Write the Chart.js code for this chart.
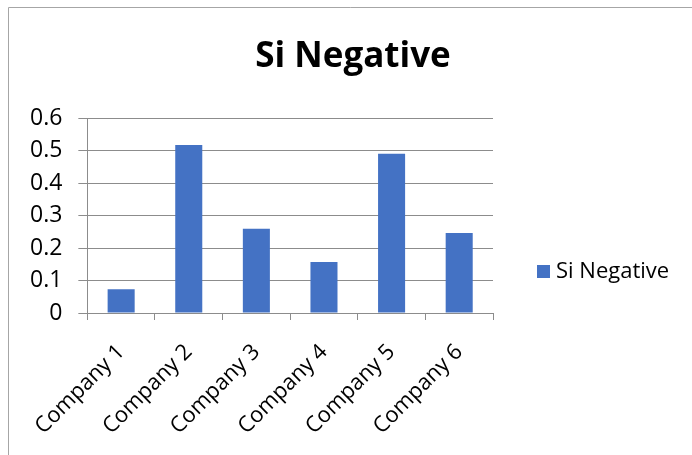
<!DOCTYPE html>
<html>
<head>
<meta charset="utf-8">
<script src="https://cdn.jsdelivr.net/npm/chart.js@4.4.0/dist/chart.umd.min.js"></script>
<style>
  html, body { margin: 0; padding: 0; background: #fff; }
  #wrap { position: relative; width: 692px; height: 455px; }
</style>
</head>
<body>
<div id="wrap"><canvas id="myChart" width="692" height="455"></canvas></div>
<script>
var categories = ['Company 1', 'Company 2', 'Company 3', 'Company 4', 'Company 5', 'Company 6'];
var siNegative = [0.073, 0.517, 0.259, 0.157, 0.49, 0.246];
var yTicks = [0, 0.1, 0.2, 0.3, 0.4, 0.5, 0.6];

var fontName = '"Open Sans", Lato, sans-serif';
var gridColor = '#8c8c8c';

// thin frame along the top and left edge
var frame = {
  id: 'frame',
  beforeDraw: function(chart) {
    var c = chart.ctx;
    c.save();
    c.strokeStyle = '#a6a6a6';
    c.lineWidth = 1;
    c.beginPath();
    c.moveTo(8.5, chart.height);
    c.lineTo(8.5, 7.5);
    c.lineTo(chart.width, 7.5);
    c.stroke();
    c.restore();
  }
};

// legend on the right, one square + series name
var sideLegend = {
  id: 'sideLegend',
  afterDraw: function(chart) {
    var c = chart.ctx;
    var area = chart.chartArea;
    var ds = chart.data.datasets[0];
    var x = area.right + 44;
    var y = area.top + 153;
    c.save();
    c.fillStyle = ds.backgroundColor;
    c.fillRect(x, y - 6, 13, 13);
    c.fillStyle = '#000';
    c.font = '22px ' + fontName;
    c.textBaseline = 'middle';
    c.fillText(ds.label, x + 19, y + 1);
    c.restore();
  }
};

var ctx = document.getElementById('myChart');
var myChart = new Chart(ctx, {
  type: 'bar',
  data: {
    labels: categories,
    datasets: [{
      label: 'Si Negative',
      data: siNegative,
      backgroundColor: '#4472c4',
      borderWidth: 0,
      barPercentage: 0.4,
      categoryPercentage: 1
    }]
  },
  options: {
    responsive: false,
    animation: false,
    layout: { padding: { left: 14, right: 0, top: 0, bottom: 0 } },
    plugins: {
      title: {
        display: true,
        text: 'Si Negative',
        color: '#000',
        font: { family: fontName, size: 35, weight: 'bold' },
        padding: { top: 36, bottom: 40 }
      },
      legend: { display: false },
      tooltip: { enabled: false }
    },
    scales: {
      x: {
        offset: true,
        grid: {
          offset: true,
          drawOnChartArea: false,
          drawTicks: true,
          tickLength: 7,
          color: gridColor
        },
        border: { color: gridColor },
        ticks: {
          color: '#000',
          font: { family: fontName, size: 22 },
          minRotation: 45,
          maxRotation: 45,
          padding: 19
        },
        afterFit: function(axis) { axis.height = 142; }
      },
      y: {
        min: 0,
        max: 0.6,
        afterBuildTicks: function(axis) {
          axis.ticks = yTicks.map(function(v) { return { value: v }; });
        },
        grid: { color: gridColor, tickLength: 9 },
        border: { color: gridColor },
        ticks: {
          color: '#000',
          font: { family: fontName, size: 23 },
          padding: 16,
          autoSkip: false,
          callback: function(v) { return String(v); }
        }
      },
      // empty right-hand axis that keeps room for the legend
      side: {
        position: 'right',
        grid: { display: false },
        border: { display: false },
        ticks: { display: false },
        afterFit: function(axis) { axis.width = 199; }
      }
    }
  },
  plugins: [frame, sideLegend]
});
</script>
</body>
</html>
